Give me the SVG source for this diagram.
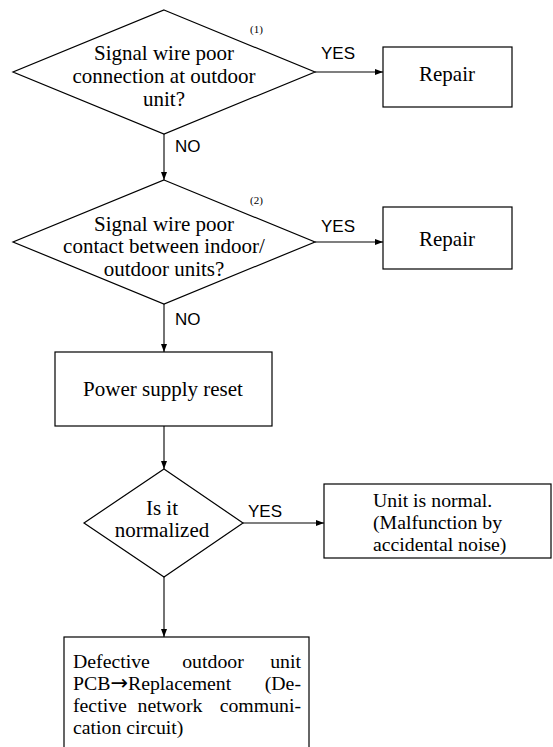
<svg xmlns="http://www.w3.org/2000/svg" width="553" height="747" viewBox="0 0 553 747">
<style>
.shape{fill:#fff;stroke:#000;stroke-width:1.2}
.t{font-family:"Liberation Serif","Times New Roman",serif;font-size:21px;fill:#000}
.s{font-size:19.8px}
.c{text-anchor:middle}
.lbl{font-family:"Liberation Sans",Arial,sans-serif;font-size:17px;fill:#000}
.note{font-family:"Liberation Serif","Times New Roman",serif;font-size:11px;fill:#000}
.con{stroke:#000;stroke-width:1.1;fill:none}
.arr{font-family:"DejaVu Sans",sans-serif;font-size:21px}
</style>
<defs>
<marker id="ah" markerUnits="userSpaceOnUse" markerWidth="9" markerHeight="8" refX="8" refY="4" orient="auto">
<path d="M0,1 L8,4 L0,7 Z" fill="#000"/>
</marker>
</defs>
<rect width="553" height="747" fill="#fff"/>
<g id="connectors">
<line class="con" x1="164" y1="134" x2="164" y2="180" marker-end="url(#ah)"/>
<line class="con" x1="315" y1="72" x2="383" y2="72" marker-end="url(#ah)"/>
<line class="con" x1="164" y1="304" x2="164" y2="352" marker-end="url(#ah)"/>
<line class="con" x1="315" y1="242" x2="383" y2="242" marker-end="url(#ah)"/>
<line class="con" x1="164" y1="426" x2="164" y2="469" marker-end="url(#ah)"/>
<line class="con" x1="243" y1="523" x2="324" y2="523" marker-end="url(#ah)"/>
<line class="con" x1="164" y1="577" x2="164" y2="637" marker-end="url(#ah)"/>
<text class="lbl" x="321" y="59">YES</text>
<text class="lbl" x="175" y="152">NO</text>
<text class="lbl" x="321" y="232">YES</text>
<text class="lbl" x="175" y="325">NO</text>
<text class="lbl" x="248" y="517">YES</text>
</g>
<g id="d1">
<polygon class="shape" points="164,10 315,72 164,134 13,72"/>
<text class="note" x="250" y="33">(1)</text>
<text class="t c"><tspan x="164" y="60">Signal wire poor</tspan><tspan x="164" y="83">connection at outdoor</tspan><tspan x="164" y="106">unit?</tspan></text>
</g>
<g id="repair1">
<rect class="shape" x="383" y="47" width="129" height="60"/>
<text class="t c" x="447" y="81">Repair</text>
</g>
<g id="d2">
<polygon class="shape" points="164,180 315,242 164,304 13,242"/>
<text class="note" x="250" y="204">(2)</text>
<text class="t c"><tspan x="164" y="231">Signal wire poor</tspan><tspan x="164" y="253">contact between indoor/</tspan><tspan x="164" y="276">outdoor units?</tspan></text>
</g>
<g id="repair2">
<rect class="shape" x="383" y="207" width="129" height="62"/>
<text class="t c" x="447" y="246">Repair</text>
</g>
<g id="reset">
<rect class="shape" x="55" y="352" width="217" height="74"/>
<text class="t c" x="163" y="396">Power supply reset</text>
</g>
<g id="d3">
<polygon class="shape" points="164,469 243,523 164,577 84,523"/>
<text class="t c"><tspan x="162" y="515">Is it</tspan><tspan x="162" y="537">normalized</tspan></text>
</g>
<g id="normal">
<rect class="shape" x="324" y="484" width="227" height="74"/>
<text class="t s"><tspan x="373" y="507">Unit is normal.</tspan><tspan x="373" y="529">(Malfunction by</tspan><tspan x="373" y="551">accidental noise)</tspan></text>
</g>
<g id="defective">
<rect class="shape" x="64" y="637" width="245" height="130"/>
<text class="t s"><tspan x="73" y="668">Defective</tspan><tspan x="213" y="668" text-anchor="middle">outdoor</tspan><tspan x="301" y="668" text-anchor="end">unit</tspan><tspan x="73" y="690">PCB<tspan class="arr">→</tspan>Replacement</tspan><tspan x="301" y="690" text-anchor="end">(De-</tspan><tspan x="73" y="712">fective</tspan><tspan x="170" y="712" text-anchor="middle">network</tspan><tspan x="301" y="712" text-anchor="end">communi-</tspan><tspan x="73" y="734">cation circuit)</tspan></text>
</g>
</svg>
